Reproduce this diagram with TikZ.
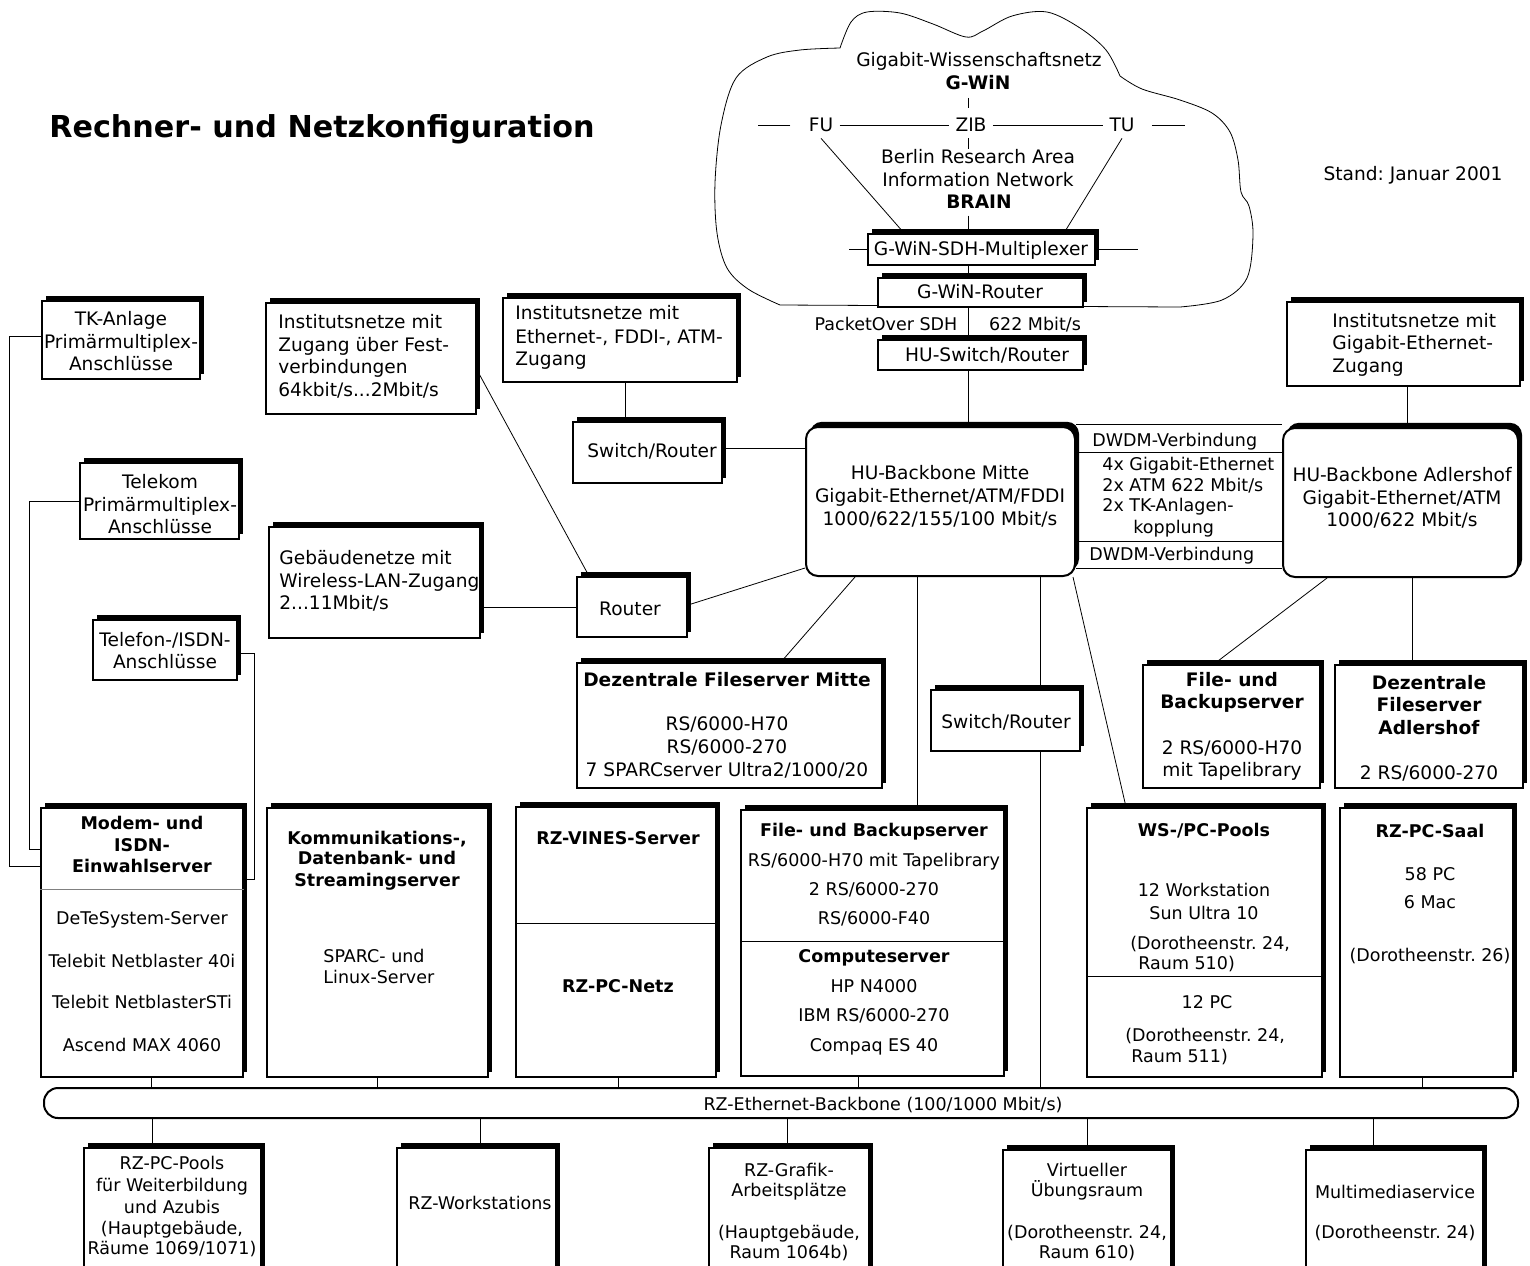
\documentclass[tikz,border=0pt]{standalone}
\usepackage{fontspec}
\setmainfont{DejaVu Sans}
\usetikzlibrary{shadows,fit,calc}
\pgfdeclarelayer{back}
\pgfdeclarelayer{lines}
\pgfsetlayers{back,lines,main}
\begin{document}
\frenchspacing
\begin{tikzpicture}[x=0.5pt,y=-0.5pt,
  font=\fontsize{9.3}{11}\selectfont,
  line width=1pt,
  box/.style={draw, fill=white, line width=1pt, inner sep=0pt,
    drop shadow={shadow xshift=2pt, shadow yshift=2.6pt, fill=black, opacity=1}},
  rbox/.style={box, rounded corners=6pt},
  tc/.style={anchor=base, yshift=-3.1pt, inner sep=0pt},
  tl/.style={tc, anchor=base west},
  tb/.style={tc, font=\fontsize{9.3}{11}\selectfont\bfseries},
  tcs/.style={tc, font=\fontsize{8.75}{10}\selectfont},
  tls/.style={tl, font=\fontsize{8.75}{10}\selectfont},
  tbs/.style={tc, font=\fontsize{8.75}{10}\selectfont\bfseries},
  lab/.style={inner sep=3pt},
]
\useasboundingbox (0,0) rectangle (1530,1265);
\clip (0,0) rectangle (1530,1265);
\begin{pgfonlayer}{back}
\fill[white] (0,0) rectangle (1530,1265);
\end{pgfonlayer}

% ---------- title ----------
\node[tb, font=\fontsize{15.1}{18}\selectfont\bfseries, yshift=-1.9pt] (title) at (322,127) {Rechner- und Netzkonfiguration};
\node[tc] (stand) at (1413,174) {Stand: Januar 2001};

% ---------- cloud ----------
\draw (780,305) -- (1180,307)
  -- plot[smooth, tension=0.55] coordinates {(1180,307) (1222,300) (1247,278) (1253,235) (1249,206) (1241,192) (1238,160) (1230,132) (1212,113) (1180,100) (1142,89) (1120,76)}
  -- plot[smooth, tension=0.55] coordinates {(1120,76) (1106,50) (1080,28) (1047,12) (1012,16) (983,31) (966,37) (933,24) (900,13) (867,12) (851,22) (840,48)}
  -- plot[smooth, tension=0.55] coordinates {(840,48) (800,50) (767,57) (736,78) (721,125) (715,183) (717,233) (727,268) (748,289) (780,305)};

\node[tc] (gw1) at (979,60) {Gigabit-Wissenschaftsnetz};
\node[tb] (gw2) at (978,83) {G-WiN};
\node[lab] (fu) at (821,125) {FU};
\node[lab] (zib) at (971,125) {ZIB};
\node[lab] (tu) at (1122,125) {TU};
\node[tc] (br1) at (978,157) {Berlin Research Area};
\node[tc] (br2) at (978,180) {Information Network};
\node[tb] (br3) at (979,202) {BRAIN};
\coordinate (vx) at (968,0);

\node[box, fit={(868,234) (1095,265)}] (mux) {};
\node[tc] (muxt) at (981,249) {G-WiN-SDH-Multiplexer};
\node[box, fit={(878,278) (1083,307)}] (gwr) {};
\node[tc] (gwrt) at (980,292) {G-WiN-Router};
\node[tcs] (pos) at (886,324) {PacketOver SDH};
\node[tcs] (mbs) at (1035,324) {622 Mbit/s};
\node[box, fit={(878,340) (1083,370)}] (husw) {};
\node[tc] (huswt) at (987,355) {HU-Switch/Router};

% ---------- backbones ----------
\node[rbox, fit={(806,427) (1075,576)}] (mitte) {};
\node[tc] (mi1) at (940,473) {HU-Backbone Mitte};
\node[tc] (mi2) at (940,496) {Gigabit-Ethernet/ATM/FDDI};
\node[tc] (mi3) at (940,519) {1000/622/155/100 Mbit/s};
\node[rbox, fit={(1283,428) (1518,577)}] (adl) {};
\node[tc] (ad1) at (1402,475) {HU-Backbone Adlershof};
\node[tc] (ad2) at (1402,498) {Gigabit-Ethernet/ATM};
\node[tc] (ad3) at (1402,520) {1000/622 Mbit/s};

\node[tls] (dw1) at (1092,440) {DWDM-Verbindung};
\node[tls] (dw2) at (1102,464) {4x Gigabit-Ethernet};
\node[tls] (dw3) at (1102,485) {2x ATM 622 Mbit/s};
\node[tls] (dw4) at (1102,505) {2x TK-Anlagen-};
\node[tls] (dw5) at (1133,527) {kopplung};
\node[tls] (dw6) at (1089,554) {DWDM-Verbindung};

\node[box, fit={(1287,302) (1520,386)}] (inGig) {};
\node[tl] (ig1) at (1332,321) {Institutsnetze mit};
\node[tl] (ig2) at (1332,343) {Gigabit-Ethernet-};
\node[tl] (ig3) at (1332,366) {Zugang};

% ---------- left column ----------
\node[box, fit={(42,301) (200,379)}] (tk) {};
\node[tc] (tk1) at (121,319) {TK-Anlage};
\node[tc] (tk2) at (121,342) {Primärmultiplex-};
\node[tc] (tk3) at (121,364) {Anschlüsse};
\node[box, fit={(80,463) (239,539)}] (telekom) {};
\node[tc] (te1) at (160,482) {Telekom};
\node[tc] (te2) at (160,505) {Primärmultiplex-};
\node[tc] (te3) at (160,527) {Anschlüsse};
\node[box, fit={(93,620) (237,680)}] (telefon) {};
\node[tc] (tf1) at (165,640) {Telefon-/ISDN-};
\node[tc] (tf2) at (165,662) {Anschlüsse};

\node[box, fit={(266,303) (476,414)}] (inFest) {};
\node[tl] (if1) at (278,322) {Institutsnetze mit};
\node[tl] (if2) at (278,345) {Zugang über Fest-};
\node[tl] (if3) at (278,367) {verbindungen};
\node[tl] (if4) at (278,390) {64kbit/s...2Mbit/s};
\node[box, fit={(269,527) (480,638)}] (geb) {};
\node[tl] (gb1) at (279,558) {Gebäudenetze mit};
\node[tl] (gb2) at (279,581) {Wireless-LAN-Zugang};
\node[tl] (gb3) at (279,603) {2...11Mbit/s};
\node[box, fit={(503,298) (737,382)}] (inEth) {};
\node[tl] (ie1) at (515,313) {Institutsnetze mit};
\node[tl] (ie2) at (515,337) {Ethernet-, FDDI-, ATM-};
\node[tl] (ie3) at (515,359) {Zugang};
\node[box, fit={(573,422) (722,483)}] (swL) {};
\node[tc] (swLt) at (652,451) {Switch/Router};
\node[box, fit={(577,577) (687,637)}] (router) {};
\node[tc] (rot) at (630,609) {Router};

% ---------- middle servers ----------
\node[box, fit={(577,663) (882,788)}] (dfm) {};
\node[tb] (df1) at (727,680) {Dezentrale Fileserver Mitte};
\node[tc] (df2) at (727,724) {RS/6000-H70};
\node[tc] (df3) at (727,747) {RS/6000-270};
\node[tc] (df4) at (727,770) {7 SPARCserver Ultra2/1000/20};
\node[box, fit={(931,690) (1080,751)}] (swM) {};
\node[tc] (swMt) at (1006,722) {Switch/Router};
\node[box, fit={(1143,665) (1320,788)}] (fbA) {};
\node[tb] (fa1) at (1232,680) {File- und};
\node[tb] (fa2) at (1232,702) {Backupserver};
\node[tc] (fa3) at (1232,748) {2 RS/6000-H70};
\node[tc] (fa4) at (1232,770) {mit Tapelibrary};
\node[box, fit={(1335,665) (1523,788)}] (dfA) {};
\node[tb] (da1) at (1429,683) {Dezentrale};
\node[tb] (da2) at (1429,705) {Fileserver};
\node[tb] (da3) at (1429,728) {Adlershof};
\node[tc] (da4) at (1429,773) {2 RS/6000-270};

% ---------- server row ----------
\node[box, fit={(41,808) (243,1077)}] (modem) {};
\draw[gray] ([yshift=-41pt]modem.north west) -- ([yshift=-41pt]modem.north east);
\node[tbs] (mo1) at (142,823) {Modem- und};
\node[tbs] (mo2) at (142,845) {ISDN-};
\node[tbs] (mo3) at (142,866) {Einwahlserver};
\node[tcs] (mo4) at (142,918) {DeTeSystem-Server};
\node[tcs] (mo5) at (142,961) {Telebit Netblaster 40i};
\node[tcs] (mo6) at (142,1002) {Telebit NetblasterSTi};
\node[tcs] (mo7) at (142,1045) {Ascend MAX 4060};

\node[box, fit={(267,808) (488,1077)}] (komm) {};
\node[tbs] (ko1) at (377,838) {Kommunikations-,};
\node[tbs] (ko2) at (377,858) {Datenbank- und};
\node[tbs] (ko3) at (377,880) {Streamingserver};
\node[tls] (ko4) at (323,956) {SPARC- und};
\node[tls] (ko5) at (323,977) {Linux-Server};

\node[box, fit={(516,807) (716,1077)}] (vines) {};
\draw ([yshift=-58.5pt]vines.north west) -- ([yshift=-58.5pt]vines.north east);
\node[tbs] (vi1) at (618,838) {RZ-VINES-Server};
\node[tbs] (vi2) at (618,986) {RZ-PC-Netz};

\node[box, fit={(741,810) (1004,1076)}] (fbs) {};
\draw ([yshift=-66pt]fbs.north west) -- ([yshift=-66pt]fbs.north east);
\node[tbs] (fb1) at (874,830) {File- und Backupserver};
\node[tcs] (fb2) at (874,860) {RS/6000-H70 mit Tapelibrary};
\node[tcs] (fb3) at (874,889) {2 RS/6000-270};
\node[tcs] (fb4) at (874,918) {RS/6000-F40};
\node[tbs] (fb5) at (874,956) {Computeserver};
\node[tcs] (fb6) at (874,986) {HP N4000};
\node[tcs] (fb7) at (874,1015) {IBM RS/6000-270};
\node[tcs] (fb8) at (874,1045) {Compaq ES 40};

\node[box, fit={(1087,808) (1322,1077)}] (ws) {};
\draw ([yshift=-84.5pt]ws.north west) -- ([yshift=-84.5pt]ws.north east);
\node[tbs] (ws1) at (1204,830) {WS-/PC-Pools};
\node[tcs] (ws2) at (1204,890) {12 Workstation};
\node[tcs] (ws3) at (1204,913) {Sun Ultra 10};
\node[tls] (ws4) at (1130,943) {(Dorotheenstr. 24,};
\node[tls] (ws5) at (1138,963) {Raum 510)};
\node[tcs] (ws6) at (1207,1002) {12 PC};
\node[tls] (ws7) at (1125,1035) {(Dorotheenstr. 24,};
\node[tls] (ws8) at (1131,1056) {Raum 511)};

\node[box, fit={(1340,808) (1513,1077)}] (saal) {};
\node[tbs] (sa1) at (1430,831) {RZ-PC-Saal};
\node[tcs] (sa2) at (1430,874) {58 PC};
\node[tcs] (sa3) at (1430,902) {6 Mac};
\node[tcs] (sa4) at (1430,955) {(Dorotheenstr. 26)};

% ---------- bus ----------
\node[draw, fill=white, line width=1pt, inner sep=0pt, rounded corners=7pt, fit={(44,1088) (1518,1118)}] (bus) {};
\node[tcs] (bust) at (883,1104) {RZ-Ethernet-Backbone (100/1000 Mbit/s)};

% ---------- bottom row ----------
\node[box, fit={(84,1148) (261,1290)}] (pools) {};
\node[tcs] (po1) at (172,1163) {RZ-PC-Pools};
\node[tcs] (po2) at (172,1185) {für Weiterbildung};
\node[tcs] (po3) at (172,1207) {und Azubis};
\node[tcs] (po4) at (172,1228) {(Hauptgebäude,};
\node[tcs] (po5) at (172,1248) {Räume 1069/1071)};
\node[box, fit={(397,1148) (556,1290)}] (rzws) {};
\node[tcs] (rw1) at (480,1203) {RZ-Workstations};
\node[box, fit={(709,1148) (869,1290)}] (graf) {};
\node[tcs] (gr1) at (789,1170) {RZ-Grafik-};
\node[tcs] (gr2) at (789,1190) {Arbeitsplätze};
\node[tcs] (gr3) at (789,1232) {(Hauptgebäude,};
\node[tcs] (gr4) at (789,1252) {Raum 1064b)};
\node[box, fit={(1003,1150) (1171,1290)}] (virt) {};
\node[tcs] (vr1) at (1087,1170) {Virtueller};
\node[tcs] (vr2) at (1087,1190) {Übungsraum};
\node[tcs] (vr3) at (1087,1232) {(Dorotheenstr. 24,};
\node[tcs] (vr4) at (1087,1252) {Raum 610)};
\node[box, fit={(1306,1150) (1483,1290)}] (mm) {};
\node[tcs] (mm1) at (1395,1192) {Multimediaservice};
\node[tcs] (mm2) at (1395,1232) {(Dorotheenstr. 24)};

% ---------- connectors ----------
\begin{pgfonlayer}{lines}
\draw ([yshift=-4pt]gw2.south -| vx) -- ([yshift=2pt]zib.north -| vx);
\draw (zib.south -| vx) -- (br1.north -| vx);
\draw ([yshift=-3.5pt]br3.south -| vx) -- (mux.north -| vx);
\draw (fu) -- (zib);
\draw (zib) -- (tu);
\draw ([xshift=-6pt]fu.west) -- ++(-32,0);
\draw ([xshift=5.5pt]tu.east) -- ++(33,0);
\draw (fu.south) -- ([xshift=18.5pt]mux.north west);
\draw (tu.south) -- ([xshift=-16pt]mux.north east);
\draw (mux.west) -- ++(-18,0);
\draw (mux.east) -- ++(42,0);
\draw (mux.south -| vx) -- (gwr.north -| vx);
\draw (gwr.south -| vx) -- (husw.north -| vx);
\draw (husw.south -| vx) -- (mitte.north -| vx);

\draw ([yshift=2pt]tk.west) -- ++(-32,0) |- ([yshift=-29.5pt]modem.north west);
\draw (telekom.west) -- ++(-50,0) |- ([yshift=-21pt]modem.north west);
\draw ([yshift=-1.5pt]telefon.east) -- ++(16,0) |- ([yshift=-36pt]modem.north east);

\draw ([yshift=-5.75pt]inFest.east) -- ([xshift=6.5pt]router.north west);
\draw (router.west) -- (router.west -| geb.east);
\draw ([xshift=2.5pt]inEth.south) -- ([xshift=2.5pt]inEth.south |- swL.north);
\draw ([yshift=2pt]swL.east) -- ([yshift=2pt]swL.east -| mitte.west);
\draw ([yshift=1pt]router.east) -- ([yshift=4.5pt]mitte.south west);
\draw ([xshift=25pt]mitte.south west) -- ([xshift=102.5pt]dfm.north west);
\draw ([xshift=56pt]mitte.south west) -- ([xshift=56pt]mitte.south west |- fbs.north);
\coordinate (m3) at ([xshift=117.5pt]mitte.south west);
\draw (m3) -- (m3 |- bus.north);
\draw ([xshift=-1.5pt]mitte.south east) -- ([xshift=20pt]ws.north west);

\draw ([yshift=1pt]mitte.north east) -- ([yshift=1pt]mitte.north east -| adl.west);
\draw ([yshift=-13pt]mitte.north east) -- ([yshift=-13pt]mitte.north east -| adl.west);
\draw ([yshift=18pt]mitte.south east) -- ([yshift=18pt]mitte.south east -| adl.west);
\draw ([yshift=4.5pt]mitte.south east) -- ([yshift=4.5pt]mitte.south east -| adl.west);

\draw ([xshift=1.75pt]inGig.south) -- ([xshift=1.75pt]inGig.south |- adl.north);
\draw ([xshift=22.5pt]adl.south west) -- ([xshift=36pt]fbA.north west);
\draw ([xshift=5.75pt]adl.south) -- ([xshift=5.75pt]adl.south |- dfA.north);

\draw ([xshift=4.5pt]modem.south) -- ([xshift=4.5pt]modem.south |- bus.north);
\draw (komm.south) -- (komm.south |- bus.north);
\draw ([xshift=1pt]vines.south) -- ([xshift=1pt]vines.south |- bus.north);
\draw ([xshift=-7.25pt]fbs.south) -- ([xshift=-7.25pt]fbs.south |- bus.north);
\draw ([xshift=-2.25pt]saal.south) -- ([xshift=-2.25pt]saal.south |- bus.north);

\draw ([xshift=-10.25pt]pools.north) -- ([xshift=-10.25pt]pools.north |- bus.south);
\draw ([xshift=1.75pt]rzws.north) -- ([xshift=1.75pt]rzws.north |- bus.south);
\draw ([xshift=-1pt]graf.north) -- ([xshift=-1pt]graf.north |- bus.south);
\draw (virt.north) -- (virt.north |- bus.south);
\draw ([xshift=-10.75pt]mm.north) -- ([xshift=-10.75pt]mm.north |- bus.south);
\end{pgfonlayer}
\end{tikzpicture}
\end{document}
